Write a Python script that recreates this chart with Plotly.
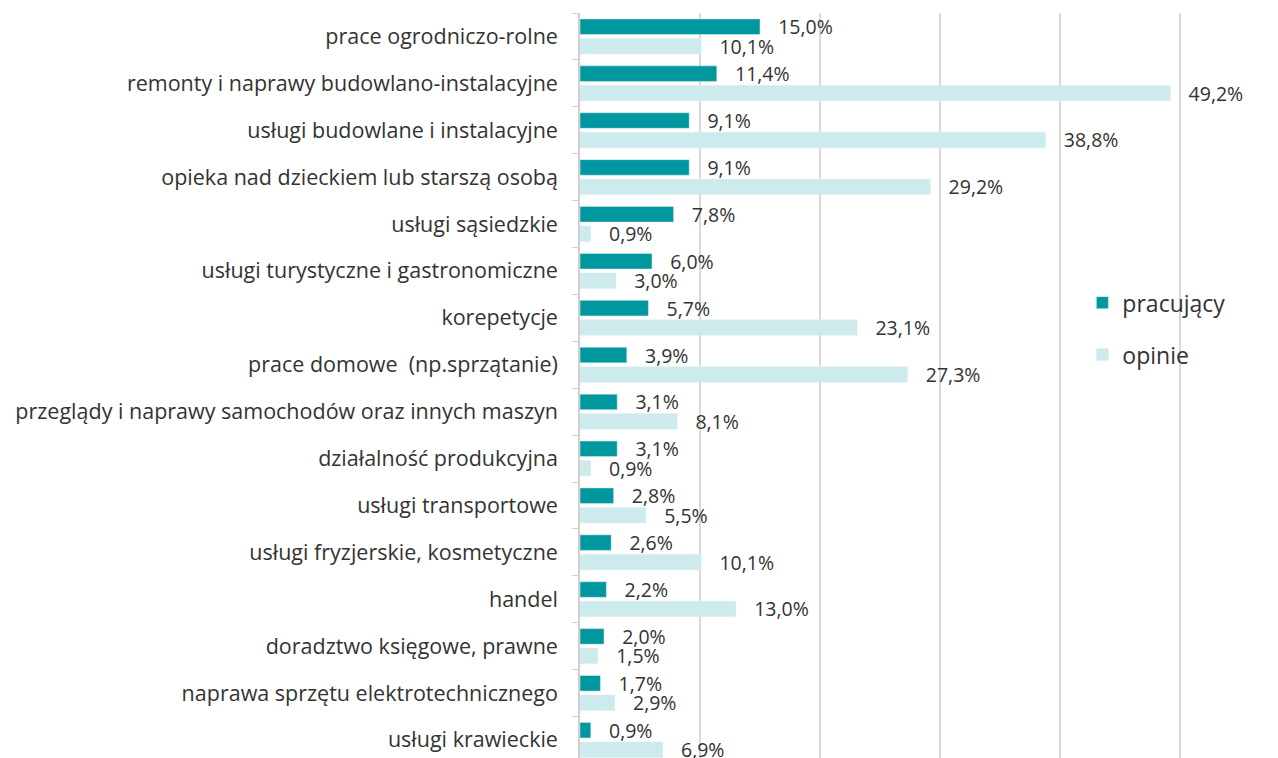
import plotly.graph_objects as go

categories = [
    "prace ogrodniczo-rolne",
    "remonty i naprawy budowlano-instalacyjne",
    "usługi budowlane i instalacyjne",
    "opieka nad dzieckiem lub starszą osobą",
    "usługi sąsiedzkie",
    "usługi turystyczne i gastronomiczne",
    "korepetycje",
    "prace domowe\u00a0\u00a0(np.sprzątanie)",
    "przeglądy i naprawy samochodów oraz innych maszyn",
    "działalność produkcyjna",
    "usługi transportowe",
    "usługi fryzjerskie, kosmetyczne",
    "handel",
    "doradztwo księgowe, prawne",
    "naprawa sprzętu elektrotechnicznego",
    "usługi krawieckie",
]
pracujacy = [15.0, 11.4, 9.1, 9.1, 7.8, 6.0, 5.7, 3.9, 3.1, 3.1, 2.8, 2.6, 2.2, 2.0, 1.7, 0.9]
opinie = [10.1, 49.2, 38.8, 29.2, 0.9, 3.0, 23.1, 27.3, 8.1, 0.9, 5.5, 10.1, 13.0, 1.5, 2.9, 6.9]

FONT = "Open Sans"
TXT = "#333333"
pad = "\u00a0" * 3

def labels(vals):
    return [pad + f"{v:.1f}".replace(".", ",") + "%" for v in vals]

fig = go.Figure()
fig.add_trace(go.Bar(
    y=categories, x=pracujacy, name="pracujący", orientation="h",
    marker=dict(color="#00979f"), text=labels(pracujacy), textposition="outside",
    constraintext="none", cliponaxis=False, legendgroup="a",
    textfont=dict(family=FONT, size=19.5, color=TXT),
))
fig.add_trace(go.Bar(
    y=categories, x=opinie, name="opinie", orientation="h",
    marker=dict(color="#cdeaec"), text=labels(opinie), textposition="outside",
    constraintext="none", cliponaxis=False, legendgroup="b",
    textfont=dict(family=FONT, size=19.5, color=TXT),
))

fig.update_layout(
    width=1278, height=758,
    margin=dict(l=572, r=100, t=5, b=8),
    paper_bgcolor="white", plot_bgcolor="white",
    barmode="group", bargap=0.17, bargroupgap=0.2,
    font=dict(family=FONT, size=21.5, color=TXT),
    showlegend=True,
    legend=dict(x=0.829, y=0.64, xanchor="left", yanchor="top",
                bgcolor="rgba(0,0,0,0)", traceorder="grouped", tracegroupgap=19,
                font=dict(family=FONT, size=23, color=TXT), itemwidth=30),
    xaxis=dict(range=[0, 50.5], tickvals=[10, 20, 30, 40, 50],
               showgrid=True, gridcolor="#d9d9d9", gridwidth=1.5,
               showticklabels=False, zeroline=False, showline=False, ticks=""),
    yaxis=dict(range=[15.385, -0.5], showline=True, linecolor="#d0d0d0", linewidth=1.5,
               ticks="outside", tickson="boundaries", ticklen=6, tickcolor="#d0d0d0",
               ticklabelstandoff=16, tickfont=dict(family=FONT, size=21.5, color=TXT)),
)

fig.write_html("out.html")
